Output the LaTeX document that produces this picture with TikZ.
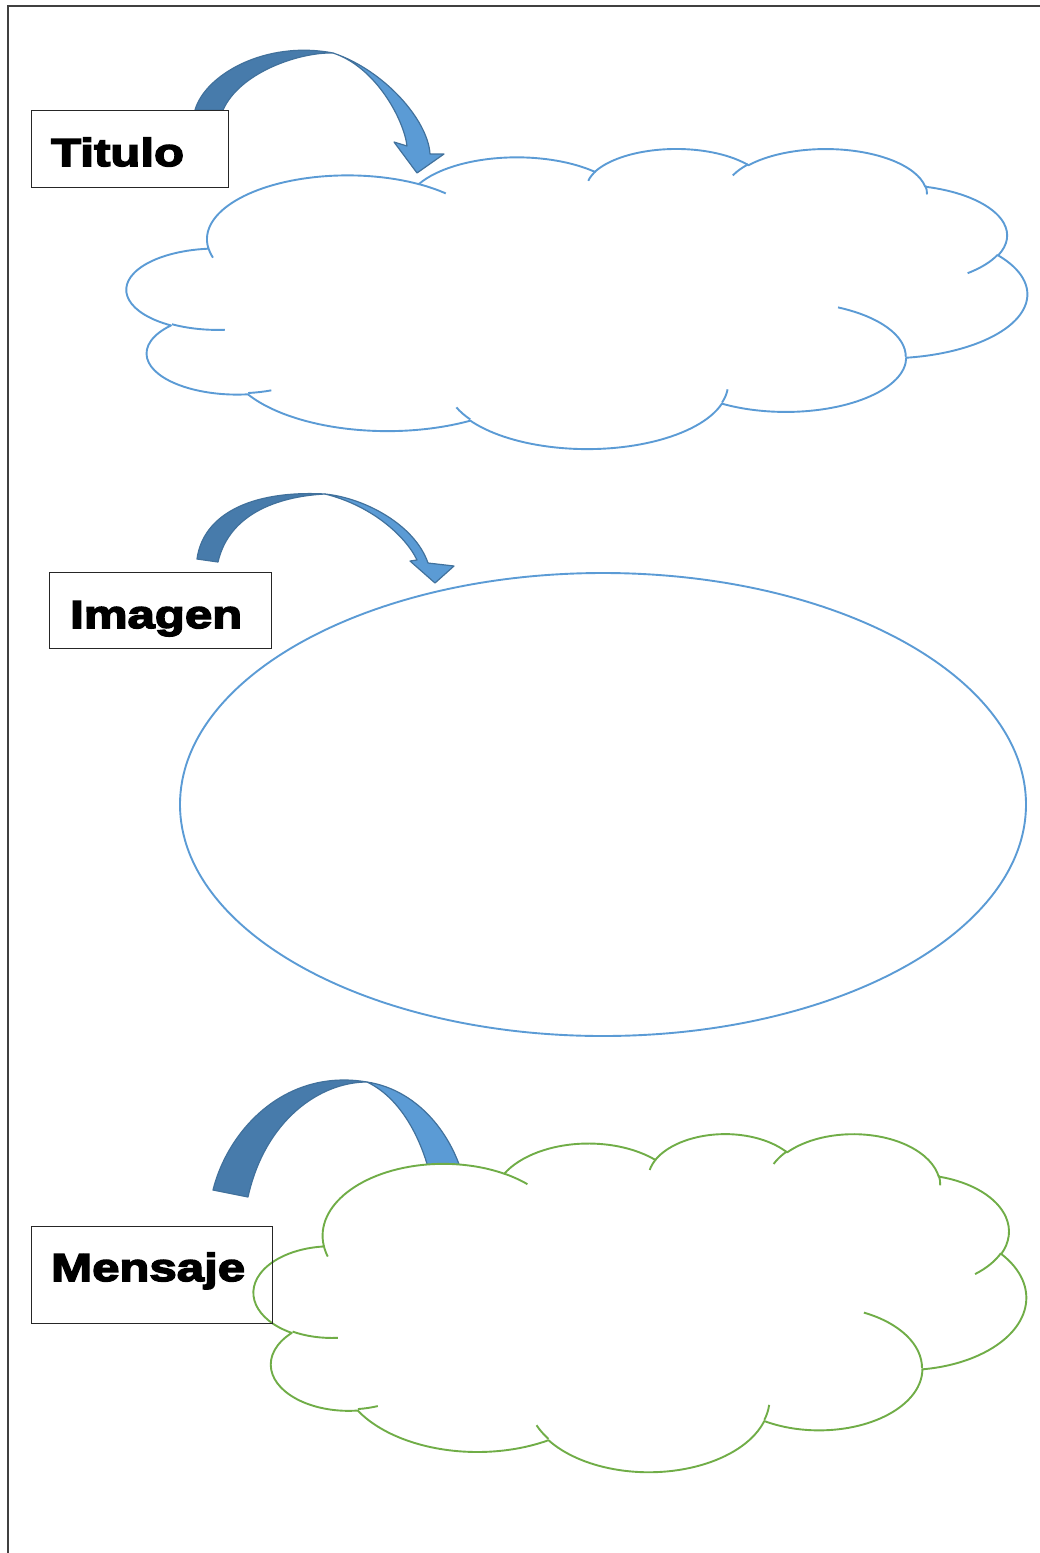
\documentclass[tikz,border=0pt]{standalone}
\usepackage{fontspec}
\usetikzlibrary{shapes.geometric}
\newfontfamily\boxfont[FakeStretch=1.26,FakeBold=4]{Liberation Sans}

\definecolor{cloudblue}{HTML}{5B9BD5}
\definecolor{cloudgreen}{HTML}{70AD47}
\definecolor{arrowdark}{HTML}{477BAB}
\definecolor{arrowlight}{HTML}{5B9BD5}
\definecolor{arrowline}{HTML}{41719C}
\definecolor{framegray}{HTML}{404040}

% angle on the ellipse -> parameter of the arc
\pgfmathdeclarefunction{visang}{3}{%
  \pgfmathparse{atan2(#1*sin(#3),#2*cos(#3))}%
}

\tikzset{
  cloudarc/.style n args={4}{x radius=#1, y radius=#2,
    start angle={visang(#1,#2,#3)},
    delta angle={mod(visang(#1,#2,#3+#4)-visang(#1,#2,#3)+720,360)}}
}

% cloud outline in a 432 x 432 box
\newcommand\cloudshape[1]{%
  \filldraw[cloudline, draw=#1, fill=white] (39.00,143.70)
    arc[cloudarc={67.53}{91.90}{-190.4875}{123.7805}]
    arc[cloudarc={53.33}{72.67}{-144.1024}{89.9452}]
    arc[cloudarc={43.65}{59.45}{-145.8079}{99.7230}]
    arc[cloudarc={48.57}{65.95}{-130.9861}{117.2417}]
    arc[cloudarc={53.33}{72.73}{-78.7089}{109.0269}]
    arc[cloudarc={67.75}{92.20}{-46.2673}{130.2690}]
    arc[cloudarc={57.85}{78.67}{0.6250}{114.0333}]
    arc[cloudarc={67.52}{92.15}{22.4516}{115.1726}]
    arc[cloudarc={77.20}{105.43}{66.2426}{75.7110}]
    arc[cloudarc={43.60}{59.18}{-274.9421}{146.7356}]
    arc[cloudarc={43.45}{59.45}{-246.8285}{152.5189}]
    -- cycle;
  \draw[cloudline, draw=#1]
    (46.93,261.77) arc[cloudarc={43.45}{59.45}{86.7420}{26.4295}]
    (69.28,348.99) arc[cloudarc={43.60}{59.18}{73.6105}{11.4475}]
    (164.78,390.90) arc[cloudarc={67.52}{92.15}{137.6242}{14.0811}]
    (288.27,347.51) arc[cloudarc={67.52}{92.15}{6.4533}{15.9984}]
    (341.29,229.54) arc[cloudarc={57.85}{78.67}{-70.2924}{70.9174}]
    (417.98,153.54) arc[cloudarc={53.33}{72.73}{30.3180}{27.7515}]
    (383.24,54.26) arc[cloudarc={48.57}{65.95}{-13.7443}{14.8589}]
    (290.78,39.52) arc[cloudarc={48.57}{65.95}{-149.1815}{18.1954}]
    (221.41,47.20) arc[cloudarc={43.65}{59.45}{-163.4943}{17.6864}]
    (140.00,51.92) arc[cloudarc={67.53}{91.90}{-66.7070}{12.3194}]
    (41.27,157.89) arc[cloudarc={67.53}{91.90}{157.6544}{11.8582}];
}

\begin{document}
\begin{tikzpicture}[x=1pt, y=-1pt,
  cloudline/.style={line width=1.9, line join=round},
  labelbox/.style={draw=black!85, line width=1.1, inner sep=0},
  labeltext/.style={font=\boxfont\fontsize{39}{47}\selectfont\bfseries, inner sep=0},
  arrowback/.style={fill=arrowdark, draw=arrowline, line width=1.2, line join=round},
  arrowfront/.style={fill=arrowlight, draw=arrowline, line width=1.2, line join=round}]
  \useasboundingbox (0,0) rectangle (1040,1553);

  % page frame
  \draw[framegray, line width=1.6] (8,1553) -- (8,6) -- (1040,6);

  % Titulo
  \coordinate (twistA) at (333,53);
  \filldraw[arrowback] (195,110) .. controls (205,75) and (265,40) .. (twistA)
    .. controls (300,52) and (240,72) .. (223,110) -- cycle;
  \filldraw[arrowfront] (twistA) .. controls (384,70) and (428,120) .. (430,154)
    -- (444,154) -- (417,173) -- (394,142) -- (407,146)
    .. controls (404,120) and (376,67) .. (twistA) -- cycle;

  \begin{scope}[shift={(127,148)}, x=2.08333pt, y=-0.69444pt]
    \cloudshape{cloudblue}
  \end{scope}

  \node[labelbox, minimum width=197, minimum height=77, anchor=north west] (titulobox) at (31,110) {};
  \node[labeltext, anchor=base west] (titulo) at (51,166) {Titulo};

  % Imagen
  \coordinate (twistB) at (325,494);
  \filldraw[arrowback] (197,559) .. controls (203,515) and (250,490) .. (twistB)
    .. controls (285,496) and (230,510) .. (218,562) -- cycle;
  \filldraw[arrowfront] (twistB) .. controls (365,498) and (415,525) .. (428,563)
    -- (454,566) -- (435,583) -- (410,561) -- (417,560)
    .. controls (405,535) and (370,505) .. (twistB) -- cycle;

  \node[ellipse, draw=cloudblue, line width=1.9, minimum width=846, minimum height=463] (imagenoval) at (603,804.5) {};

  \node[labelbox, minimum width=222, minimum height=76, anchor=north west] (imagenbox) at (49,572) {};
  \node[labeltext, anchor=base west] (imagen) at (70,628) {Imagen};

  % Mensaje
  \coordinate (twistC) at (367,1082);
  \filldraw[arrowback] (213,1190) .. controls (228,1130) and (285,1068) .. (twistC)
    .. controls (320,1082) and (265,1120) .. (248,1197) -- cycle;
  \filldraw[arrowfront] (twistC) .. controls (420,1090) and (460,1140) .. (468,1200)
    -- (435,1200) .. controls (428,1150) and (405,1100) .. (twistC) -- cycle;

  \begin{scope}[shift={(254,1133)}, x=1.78704pt, y=-0.78241pt]
    \cloudshape{cloudgreen}
  \end{scope}

  \node[labelbox, minimum width=241, minimum height=97, anchor=north west] (mensajebox) at (31,1226) {};
  \node[labeltext, anchor=base west] (mensaje) at (51,1281) {Mensaje};
\end{tikzpicture}
\end{document}
